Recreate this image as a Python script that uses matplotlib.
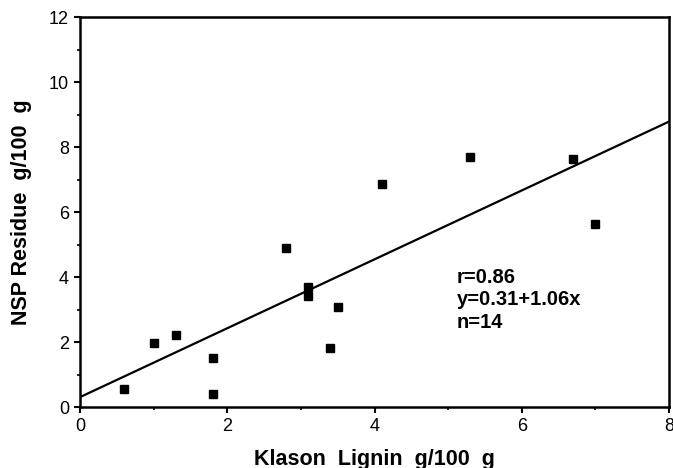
import matplotlib
matplotlib.use("Agg")
import matplotlib.pyplot as plt
import numpy as np
from matplotlib.ticker import MultipleLocator

plt.rcParams['font.family'] = ['Liberation Sans', 'DejaVu Sans']

lignin = [0.6, 1.0, 1.3, 1.8, 1.8, 2.8, 3.1, 3.1, 3.5, 3.4, 4.1, 5.3, 6.7, 7.0]
residue = [0.56, 1.99, 2.22, 1.51, 0.40, 4.90, 3.71, 3.42, 3.08, 1.83, 6.88, 7.70, 7.63, 5.65]
intercept = 0.31
slope = 1.06
stats_lines = ["r=0.86", "y=0.31+1.06x", "n=14"]

fig = plt.figure(figsize=(6.73, 4.68), dpi=100)
ax = fig.add_axes([0.119, 0.130, 0.875, 0.833])

ax.plot(lignin, residue, 's', color='black', markersize=6, zorder=3)
xl = np.array([0, 8])
ax.plot(xl, intercept + slope * xl, color='black', linewidth=1.6)

ax.set_xlim(0, 8)
ax.set_ylim(0, 12)
ax.xaxis.set_major_locator(MultipleLocator(2))
ax.xaxis.set_minor_locator(MultipleLocator(1))
ax.yaxis.set_major_locator(MultipleLocator(2))
ax.yaxis.set_minor_locator(MultipleLocator(1))
ax.tick_params(which='major', direction='out', length=4, width=1.5, labelsize=13, pad=4)
ax.tick_params(which='minor', direction='out', length=2, width=1.2)
for s in ax.spines.values():
    s.set_linewidth(1.8)

ax.set_xlabel("Klason  Lignin  g/100  g", fontsize=15.5, fontweight='bold', labelpad=10)
ax.set_ylabel("NSP Residue  g/100  g", fontsize=15.5, fontweight='bold', labelpad=12)

ys = [4.0, 3.3, 2.6]
for t, yv in zip(stats_lines, ys):
    ax.text(5.12, yv, t, fontsize=14.5, fontweight='bold', va='center', ha='left')

fig.savefig("out.png", dpi=100)
